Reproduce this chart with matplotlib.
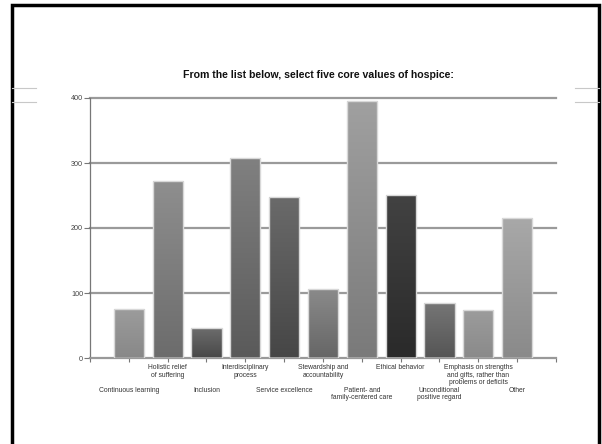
import numpy as np
import matplotlib
matplotlib.use('Agg')
import matplotlib.pyplot as plt
from matplotlib.colors import to_rgb
from matplotlib.lines import Line2D
from matplotlib.patches import Rectangle

plt.rcParams['font.family'] = ['Liberation Sans', 'DejaVu Sans']

# Data
values = ['Continuous learning', 'Holistic relief\nof suffering', 'Inclusion',
          'Interdisciplinary\nprocess', 'Service excellence',
          'Stewardship and\naccountability', 'Patient- and\nfamily-centered care',
          'Ethical behavior', 'Unconditional\npositive regard',
          'Emphasis on strengths\nand gifts, rather than\nproblems or deficits',
          'Other']
counts = [76, 272, 46, 307, 247, 106, 396, 250, 85, 74, 215]
y_ticks = [0, 100, 200, 300, 400]

# gradient colours per bar (top, bottom)
tops = ['#9c9c9c', '#8e8e8e', '#6c6c6c', '#808080', '#6a6a6a', '#8a8a8a',
        '#a0a0a0', '#424242', '#767676', '#9c9c9c', '#a8a8a8']
bottoms = ['#888888', '#6c6c6c', '#484848', '#5a5a5a', '#464646', '#666666',
           '#7a7a7a', '#2a2a2a', '#555555', '#8a8a8a', '#8a8a8a']

fig = plt.figure(figsize=(6.02, 4.44), dpi=100)
ax = fig.add_axes([90 / 602, 86 / 444, 466 / 602, 260 / 444])

x = np.arange(len(counts))
bars = ax.bar(x, counts, width=0.78, color='none', edgecolor='#d8d8d8',
              linewidth=1.0, zorder=3)

# vertical gradient inside each bar
for b, top, bot in zip(bars, tops, bottoms):
    x0 = b.get_x()
    x1 = x0 + b.get_width()
    h = b.get_height()
    t = np.linspace(0, 1, 64)[:, None]
    c0 = np.array(to_rgb(bot))
    c1 = np.array(to_rgb(top))
    img = (c0 + (c1 - c0) * t)[:, None, :].repeat(2, axis=1)
    im = ax.imshow(img, extent=[x0, x1, 0, h], origin='lower', aspect='auto',
                   zorder=2, interpolation='bilinear')
    im.set_clip_path(b)

ax.set_xlim(-1, 11)
ax.set_ylim(0, 400)

ax.set_yticks(y_ticks)
ax.yaxis.grid(True, color='#9a9a9a', linewidth=1.6, zorder=1)
ax.set_axisbelow(True)
for gl in ax.get_ygridlines():
    gl.set_clip_on(False)
ax.tick_params(axis='y', length=4, width=0.8, color='#777777', pad=1,
               labelsize=5.2, labelcolor='#444444')

ax.set_xticks(list(range(-1, 12)))
ax.set_xticklabels([])
ax.tick_params(axis='x', length=3, width=0.8, color='#777777')

for side in ['top', 'right']:
    ax.spines[side].set_visible(False)
ax.spines['left'].set_color('#777777')
ax.spines['left'].set_linewidth(0.9)
ax.spines['bottom'].set_color('#999999')
ax.spines['bottom'].set_linewidth(1.3)

# staggered category labels
for i, lab in enumerate(values):
    dy = -4.5 if i % 2 == 1 else -21
    ax.annotate(lab, xy=(i, 0), xytext=(0, dy), textcoords='offset points',
                ha='center', va='top', fontsize=4.9, color='#333333',
                linespacing=1.05, annotation_clip=False)

fig.text(318 / 602, 1 - 75 / 444, 'From the list below, select five core values of hospice:',
         ha='center', va='center', fontsize=7.6, fontweight='bold', color='#111111')

# slide frame and side rules
fig.add_artist(Rectangle((12 / 602, -0.1), (599 - 12) / 602, 1.1 - 5 / 444,
                         transform=fig.transFigure, fill=False,
                         edgecolor='black', linewidth=2.5))
for yy in [88, 102]:
    fig.add_artist(Line2D([12 / 602, 36 / 602], [1 - yy / 444] * 2,
                          transform=fig.transFigure, color='#c8c8c8', linewidth=0.8))
    fig.add_artist(Line2D([575 / 602, 599 / 602], [1 - yy / 444] * 2,
                          transform=fig.transFigure, color='#c8c8c8', linewidth=0.8))

fig.savefig('out.png', dpi=100)
